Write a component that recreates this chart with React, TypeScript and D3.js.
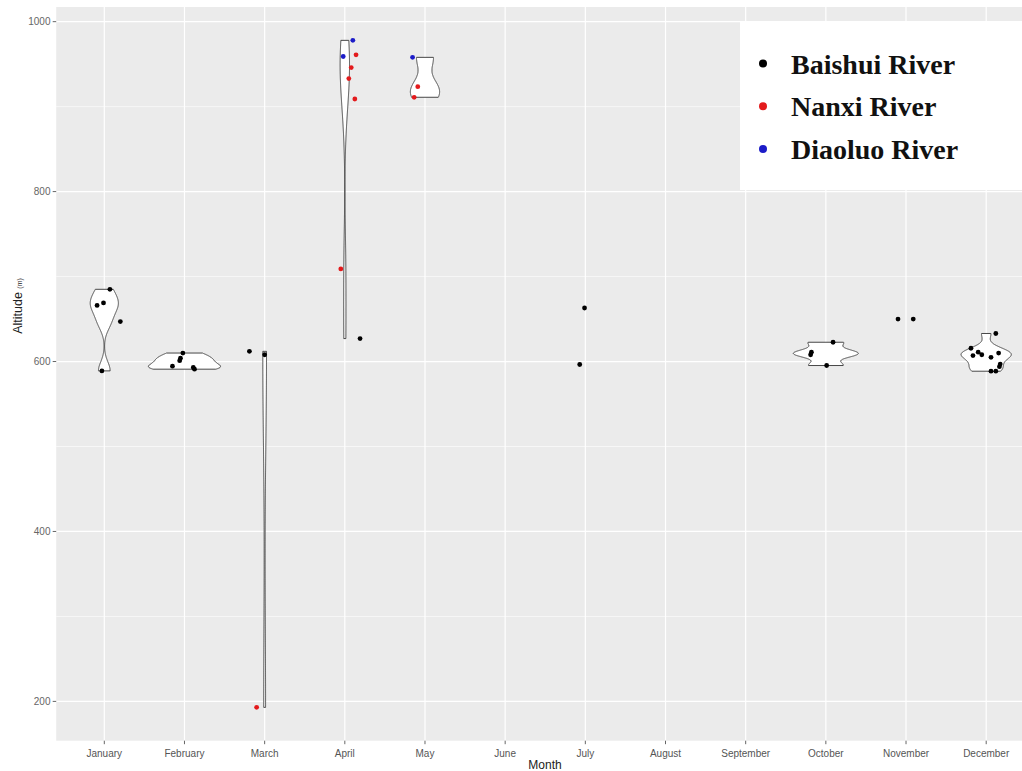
import React, { useEffect, useRef } from 'react';
import * as d3 from 'd3';

// months on the x axis
const months = [
  'January', 'February', 'March', 'April', 'May', 'June',
  'July', 'August', 'September', 'October', 'November', 'December',
];

const rivers = ['Baishui River', 'Nanxi River', 'Diaoluo River'];
const riverColors = ['#000000', '#e31a1c', '#1c1cc8'];

const pointMonth = [
  'January', 'January', 'January', 'January', 'January',
  'February', 'February', 'February', 'February', 'February', 'February',
  'March', 'March', 'March',
  'April', 'April', 'April', 'April', 'April', 'April', 'April', 'April',
  'May', 'May', 'May',
  'July', 'July',
  'October', 'October', 'October', 'October',
  'November', 'November',
  'December', 'December', 'December', 'December', 'December', 'December',
  'December', 'December', 'December', 'December', 'December',
];
const pointAltitude = [
  685, 669, 666, 647, 589,
  610, 604, 601, 594.5, 593, 591,
  612, 608, 193,
  978, 959, 961, 946, 933, 909, 709, 627,
  958, 923.5, 911,
  663, 596.5,
  622.7, 611, 608, 595.3,
  650, 650,
  633, 615.6, 611, 608, 607, 610, 605, 594, 597, 588.6, 588.6,
];
const pointRiver = [
  'Baishui River', 'Baishui River', 'Baishui River', 'Baishui River', 'Baishui River',
  'Baishui River', 'Baishui River', 'Baishui River', 'Baishui River', 'Baishui River', 'Baishui River',
  'Baishui River', 'Baishui River', 'Nanxi River',
  'Diaoluo River', 'Diaoluo River', 'Nanxi River', 'Nanxi River', 'Nanxi River', 'Nanxi River', 'Nanxi River', 'Baishui River',
  'Diaoluo River', 'Nanxi River', 'Nanxi River',
  'Baishui River', 'Baishui River',
  'Baishui River', 'Baishui River', 'Baishui River', 'Baishui River',
  'Baishui River', 'Baishui River',
  'Baishui River', 'Baishui River', 'Baishui River', 'Baishui River', 'Baishui River', 'Baishui River',
  'Baishui River', 'Baishui River', 'Baishui River', 'Baishui River', 'Baishui River',
];
// horizontal jitter of each point, as a fraction of the month spacing
const pointJitter = [
  0.07, -0.01, -0.09, 0.2, -0.03,
  -0.02, -0.05, -0.06, -0.15, 0.11, 0.125,
  -0.19, 0.0, -0.1,
  0.1, -0.02, 0.14, 0.08, 0.05, 0.125, -0.05, 0.19,
  -0.155, -0.09, -0.135,
  -0.01, -0.07,
  0.09, -0.18, -0.19, 0.01,
  -0.1, 0.09,
  0.12, -0.19, -0.1, -0.055, -0.165, 0.155, 0.06, 0.165, 0.175, 0.06, 0.12,
];

const yTicks = [200, 400, 600, 800, 1000];
const yMinorTicks = [300, 500, 700, 900];

// R's bw.nrd0
function bwNrd0(v) {
  const sorted = [...v].sort((a, b) => a - b);
  const sd = d3.deviation(sorted) || 0;
  const iqr = d3.quantileSorted(sorted, 0.75) - d3.quantileSorted(sorted, 0.25);
  let lo = Math.min(sd, iqr / 1.34);
  if (!lo) lo = sd || Math.abs(sorted[0]) || 1;
  return 0.9 * lo * Math.pow(v.length, -0.2);
}

// gaussian kernel density over the data range (trimmed, like geom_violin)
function density(v, n = 512) {
  const bw = bwNrd0(v);
  const lo = d3.min(v), hi = d3.max(v);
  const out = [];
  for (let i = 0; i < n; i++) {
    const t = lo + ((hi - lo) * i) / (n - 1);
    let s = 0;
    v.forEach(x => {
      const z = (t - x) / bw;
      s += Math.exp(-0.5 * z * z);
    });
    out.push([t, s / (v.length * bw * Math.sqrt(2 * Math.PI))]);
  }
  return out;
}

const App = () => {
  const svgRef = useRef();

  useEffect(() => {
    const svg = d3.select(svgRef.current);
    svg.selectAll('*').remove();

    const width = 1022;
    const height = 771;
    const panel = { left: 56.2, right: 1034.3, top: 7, bottom: 740.7 };

    const x = d3.scalePoint()
      .domain(months)
      .range([panel.left, panel.right])
      .padding(0.6);
    const step = x.step();

    const [ymin, ymax] = d3.extent(pointAltitude);
    const pad = (ymax - ymin) * 0.05;
    const y = d3.scaleLinear()
      .domain([ymin - pad, ymax + pad])
      .range([panel.bottom, panel.top]);

    const color = d3.scaleOrdinal().domain(rivers).range(riverColors);

    const points = pointAltitude.map((v, i) => ({
      month: pointMonth[i],
      alt: v,
      river: pointRiver[i],
      jit: pointJitter[i],
    }));

    // panel background
    svg.append('rect')
      .attr('x', panel.left)
      .attr('y', panel.top)
      .attr('width', panel.right - panel.left)
      .attr('height', panel.bottom - panel.top)
      .attr('fill', '#ebebeb');

    // grid
    const grid = svg.append('g');
    grid.selectAll('.minor')
      .data(yMinorTicks)
      .join('line')
      .attr('x1', panel.left)
      .attr('x2', panel.right)
      .attr('y1', d => y(d))
      .attr('y2', d => y(d))
      .attr('stroke', '#ffffff')
      .attr('stroke-width', 0.6);
    grid.selectAll('.hmajor')
      .data(yTicks)
      .join('line')
      .attr('x1', panel.left)
      .attr('x2', panel.right)
      .attr('y1', d => y(d))
      .attr('y2', d => y(d))
      .attr('stroke', '#ffffff')
      .attr('stroke-width', 1.2);
    grid.selectAll('.vmajor')
      .data(months)
      .join('line')
      .attr('x1', d => x(d))
      .attr('x2', d => x(d))
      .attr('y1', panel.top)
      .attr('y2', panel.bottom)
      .attr('stroke', '#ffffff')
      .attr('stroke-width', 1.2);

    // violins, one per month with at least 3 samples, scale = "area"
    const groups = months
      .map(m => ({ month: m, values: points.filter(p => p.month === m).map(p => p.alt) }))
      .filter(g => g.values.length >= 3)
      .map(g => ({ ...g, dens: density(g.values) }));
    const maxDens = d3.max(groups, g => d3.max(g.dens, d => d[1]));

    groups.forEach(g => {
      const cx = x(g.month);
      const hw = d => (d[1] / maxDens) * 0.45 * step;
      const area = d3.area()
        .y(d => y(d[0]))
        .x0(d => cx - hw(d))
        .x1(d => cx + hw(d));
      svg.append('path')
        .datum(g.dens)
        .attr('d', area)
        .attr('fill', '#ffffff')
        .attr('stroke', '#333333')
        .attr('stroke-width', 0.9);
    });

    // points
    svg.append('g')
      .selectAll('circle')
      .data(points)
      .join('circle')
      .attr('cx', d => x(d.month) + d.jit * step)
      .attr('cy', d => y(d.alt))
      .attr('r', 2.4)
      .attr('fill', d => color(d.river));

    // axes
    const axisFont = 'Liberation Sans, Arial, sans-serif';
    const xAxis = svg.append('g');
    xAxis.selectAll('line')
      .data(months)
      .join('line')
      .attr('x1', d => x(d))
      .attr('x2', d => x(d))
      .attr('y1', panel.bottom)
      .attr('y2', panel.bottom + 3.5)
      .attr('stroke', '#555')
      .attr('stroke-width', 0.9);
    xAxis.selectAll('text')
      .data(months)
      .join('text')
      .attr('x', d => x(d))
      .attr('y', 757)
      .attr('text-anchor', 'middle')
      .attr('font-family', axisFont)
      .attr('font-size', 10)
      .attr('fill', '#555')
      .text(d => d);

    const yAxis = svg.append('g');
    yAxis.selectAll('line')
      .data(yTicks)
      .join('line')
      .attr('x1', panel.left - 3.5)
      .attr('x2', panel.left)
      .attr('y1', d => y(d))
      .attr('y2', d => y(d))
      .attr('stroke', '#555')
      .attr('stroke-width', 0.9);
    yAxis.selectAll('text')
      .data(yTicks)
      .join('text')
      .attr('x', 50.5)
      .attr('y', d => y(d) + 3.5)
      .attr('text-anchor', 'end')
      .attr('font-family', axisFont)
      .attr('font-size', 10)
      .attr('fill', '#666')
      .text(d => d);

    // axis titles
    svg.append('text')
      .attr('x', 545)
      .attr('y', 769)
      .attr('text-anchor', 'middle')
      .attr('font-family', axisFont)
      .attr('font-size', 12)
      .attr('fill', '#222')
      .text('Month');

    const yTitle = svg.append('text')
      .attr('transform', 'translate(22,306) rotate(-90)')
      .attr('text-anchor', 'middle')
      .attr('font-family', axisFont)
      .attr('fill', '#222');
    yTitle.append('tspan').attr('font-size', 12.5).text('Altitude ');
    yTitle.append('tspan').attr('font-size', 7).text('(m)');

    // legend
    const legend = svg.append('g');
    legend.append('rect')
      .attr('x', 740)
      .attr('y', 22)
      .attr('width', 300)
      .attr('height', 168)
      .attr('fill', '#ffffff');
    const item = legend.selectAll('g')
      .data(rivers)
      .join('g')
      .attr('transform', (d, i) => `translate(0,${i * 42.7})`);
    item.append('circle')
      .attr('cx', 763)
      .attr('cy', 63.5)
      .attr('r', 4)
      .attr('fill', d => color(d));
    item.append('text')
      .attr('x', 791)
      .attr('y', 73.5)
      .attr('font-family', 'Liberation Serif, Times New Roman, serif')
      .attr('font-weight', 'bold')
      .attr('font-size', 28)
      .attr('fill', '#111')
      .text(d => d);

    svg.attr('width', width).attr('height', height);
  }, []);

  return (
    <svg
      ref={svgRef}
      width="1022"
      height="771"
      style={{ position: 'absolute', left: 0, top: 0, background: '#fff', display: 'block' }}
    />
  );
};

export default App;
